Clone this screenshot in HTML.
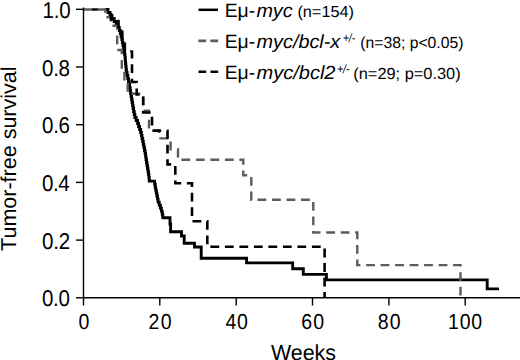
<!DOCTYPE html>
<html><head><meta charset="utf-8"><style>
html,body{margin:0;padding:0;background:#fff;width:520px;height:360px;overflow:hidden}
svg{display:block}
text{font-family:"Liberation Sans",sans-serif;fill:#000;text-rendering:geometricPrecision}

</style></head><body>
<svg width="520" height="360" viewBox="0 0 520 360">
<g fill="none" stroke-linejoin="miter" stroke-linecap="butt">
<path d="M105.3,9.5 H108.0 V12.5 H110.0 V15.5 H112.0 V18.5 H114.2 V21.5 H116.2 V24.5 H117.9 V27.5 H119.3 V30.5 H120.3 V33.5 H121.1 V36.5 H121.8 V39.5 H122.4 V42.5 H123.0 V45.5 H123.5 V48.5 H124.1 V51.5 H124.6 V54.5 H125.0 V57.5 H125.3 V60.5 H125.5 V63.5 H125.8 V66.5 H126.1 V69.5 H126.4 V72.5 H127.1 V75.5 H127.8 V78.5 H128.5 V81.5 H129.1 V84.5 H129.6 V87.5 H130.1 V90.5 H130.6 V93.5 H131.1 V96.5 H131.6 V99.5 H132.1 V102.5 H132.6 V105.5 H133.1 V108.5 H133.6 V111.5 H134.2 V114.5 H134.9 V117.5 H136.2 V120.5 H137.6 V123.5 H138.6 V126.5 H139.6 V129.5 H140.6 V132.5 H141.4 V135.5 H142.0 V138.5 H142.7 V141.5 H143.3 V144.5 H143.9 V147.5 H144.5 V150.5 H145.1 V153.5 H145.6 V156.5 H146.0 V159.5 H146.5 V162.5 H147.0 V165.5 H147.5 V168.5 H148.0 V171.5 H148.5 V174.5 H148.9 V177.5 H149.2 V180.5 H149.6 V181.1 H154.6 H154.6 V184.1 H155.2 V187.1 H155.7 V190.1 H156.3 V193.1 H156.9 V196.1 H157.5 V199.1 H158.1 V202.1 H159.2 V205.1 H160.4 V208.1 H161.4 V211.1 H162.2 V214.1 H162.7 V217.1 H163.2 V217.8 H170 V224 H170.6 V231.8 H181.5 V236 H184.2 V243.3 H194.5 V247 H201.2 V258.3 H246.6 V262.9 H292.7 V268.7 H303.3 V274.4 H326.4 V279.9 H487.2 V288.9 H499" stroke="#000" stroke-width="2.9"/>
<path d="M105.3,9.5 V17.3 H111 V25.8 H117.2 V50 H121.8 V70.5 H124.4 V82 H127.7 V93.7 H143.2 V110.8 H149 V130.3 H159 V138.4 H170.6 V149.3 H178 V159.8 H243.3 V175.3 H251.3 V199.7 H313.3 V232.5 H357.3 V265.1 H460.5 V297.8" stroke="#5c5c5c" stroke-width="2.4" stroke-dasharray="8.8 5.7" stroke-dashoffset="20.1"/>
<line x1="84" y1="9.5" x2="105.3" y2="9.5" stroke="#5c5c5c" stroke-width="2.4" stroke-dasharray="8 5.9"/>
<line x1="92" y1="9.5" x2="97.9" y2="9.5" stroke="#000" stroke-width="2.4"/>
<path d="M111,9.5 V19.5 H118.5 V29.5 H122.3 V39.5 H124.8 V51.5 H132 V82 H136.7 V94.5 H143.2 V112.5 H152 V130.8 H167.5 V164.4 H175.3 V183.3 H192 V221.2 H207.3 V246.8 H324.6 V297.8" stroke="#000" stroke-width="2.6" stroke-dasharray="8.8 5.7" stroke-dashoffset="25.8"/>
</g>
<g stroke="#000" stroke-width="1.4" fill="none">
<line x1="83.5" y1="7.5" x2="83.5" y2="298" />
<line x1="83" y1="297.8" x2="520" y2="297.8" />
<line x1="83.5" y1="297.8" x2="83.5" y2="305.5" />
<line x1="159.8" y1="297.8" x2="159.8" y2="305.5" />
<line x1="236.2" y1="297.8" x2="236.2" y2="305.5" />
<line x1="312.5" y1="297.8" x2="312.5" y2="305.5" />
<line x1="388.9" y1="297.8" x2="388.9" y2="305.5" />
<line x1="465.2" y1="297.8" x2="465.2" y2="305.5" />
<line x1="76" y1="297.8" x2="84" y2="297.8" />
<line x1="76" y1="240.1" x2="84" y2="240.1" />
<line x1="76" y1="182.4" x2="84" y2="182.4" />
<line x1="76" y1="124.7" x2="84" y2="124.7" />
<line x1="76" y1="67.0" x2="84" y2="67.0" />
<line x1="76" y1="9.3" x2="84" y2="9.3" />
</g>
<g>
<line x1="198.5" y1="9.8" x2="218" y2="9.8" stroke="#000" stroke-width="2.5"/>
<line x1="198.3" y1="40.8" x2="218.1" y2="40.8" stroke="#5c5c5c" stroke-width="2.7" stroke-dasharray="7.8 4.2"/>
<line x1="198.5" y1="71.8" x2="218.2" y2="71.8" stroke="#000" stroke-width="2.5" stroke-dasharray="7.7 4.3"/>
</g>
<text transform="translate(42.09,306.3) scale(0.9000,1)" font-size="22.8" letter-spacing="-0.45">0.0</text>
<text transform="translate(42.09,248.6) scale(0.9000,1)" font-size="22.8" letter-spacing="-0.30">0.2</text>
<text transform="translate(42.09,190.9) scale(0.9000,1)" font-size="22.8" letter-spacing="-0.55">0.4</text>
<text transform="translate(42.09,133.2) scale(0.9000,1)" font-size="22.8" letter-spacing="-0.40">0.6</text>
<text transform="translate(42.09,75.5) scale(0.9000,1)" font-size="22.8" letter-spacing="-0.40">0.8</text>
<text transform="translate(42.57,17.8) scale(0.9000,1)" font-size="22.8" letter-spacing="-0.27">1.0</text>
<text transform="translate(78.43,328.5) scale(0.9000,1)" font-size="21.7">0</text>
<text transform="translate(148.55,328.5) scale(0.9000,1)" font-size="21.7" letter-spacing="1.36">20</text>
<text transform="translate(225.43,328.5) scale(0.9000,1)" font-size="21.7" letter-spacing="0.76">40</text>
<text transform="translate(301.23,328.5) scale(0.9000,1)" font-size="21.7" letter-spacing="1.36">60</text>
<text transform="translate(377.75,328.5) scale(0.9000,1)" font-size="21.7" letter-spacing="1.16">80</text>
<text transform="translate(448.12,328.5) scale(0.9000,1)" font-size="21.7" letter-spacing="0.81">100</text>
<text transform="translate(270.90,359.5) scale(0.9832,1)" font-size="21.8">Weeks</text>
<text transform="translate(15.8,250.90) rotate(-90) scale(1.0005,1)" font-size="21.5">Tumor-free survival</text>
<text transform="translate(224.69,17) scale(1.0036,1)" font-size="19.3">Eμ-</text>
<text transform="translate(224.69,48) scale(1.0036,1)" font-size="19.3">Eμ-</text>
<text transform="translate(224.69,79) scale(1.0036,1)" font-size="19.3">Eμ-</text>
<text transform="translate(256.39,17) scale(1.0408,1)" font-size="19" font-style="italic">myc</text>
<text transform="translate(297.38,17) scale(1.0187,1)" font-size="16" class="s">(n=154)</text>
<text transform="translate(256.59,48) scale(1.0423,1)" font-size="19" font-style="italic">myc/bcl-x</text>
<text transform="translate(342.93,41.5) scale(0.8409,1)" font-size="12" font-style="italic" class="s">+/-</text>
<text transform="translate(360.32,48) scale(0.9825,1)" font-size="16" class="s">(n=38; p&lt;0.05)</text>
<text transform="translate(256.58,79) scale(1.0524,1)" font-size="19" font-style="italic">myc/bcl2</text>
<text transform="translate(336.89,72.5) scale(0.8864,1)" font-size="12" font-style="italic" class="s">+/-</text>
<text transform="translate(353.28,79) scale(1.0224,1)" font-size="16" class="s">(n=29; p=0.30)</text>
</svg>
</body></html>
